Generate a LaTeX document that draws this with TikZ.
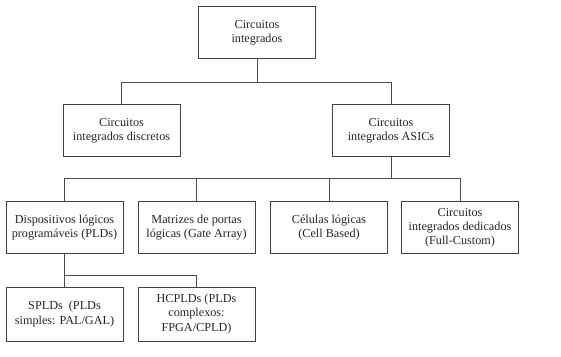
\documentclass[tikz,border=0pt]{standalone}
\usepackage{fontspec}
\setmainfont{Liberation Serif}
\usetikzlibrary{positioning,calc}

\tikzset{
  caixa/.style={draw=black!75, line width=1pt, minimum width=117pt, minimum height=52pt,
    align=center, inner sep=2pt, font=\fontsize{12.2}{14.2}\selectfont, text=black!85},
  liga/.style={draw=black!70, line width=1pt}
}

\begin{document}
\begin{tikzpicture}[x=1pt,y=1pt]
  \useasboundingbox (0,0) rectangle (561,356);

  % Nivel 1
  \node[caixa] (ci) at (257,323) {Circuitos\\integrados};

  % Nivel 2
  \node[caixa] (disc) at (121.5,225) {Circuitos\\integrados discretos};
  \node[caixa] (asic) at (391,225) {Circuitos\\integrados ASICs};

  % Nivel 3
  \node[caixa, minimum height=51pt] (pld) at (64.5,128.5) {Dispositivos lógicos\\programáveis (PLDs)};
  \node[caixa, minimum height=51pt] (mat) at (196.5,128.5) {Matrizes de portas\\lógicas (Gate Array)};
  \node[caixa, minimum height=51pt] (cel) at (329,128.5) {Células lógicas\\(Cell Based)};
  \node[caixa, minimum height=51pt] (ded) at (460,128.5) {Circuitos\\integrados dedicados\\(Full-Custom)};

  % Nivel 4
  \node[caixa, minimum height=54pt] (spld) at (64.5,42) {SPLDs \ (PLDs\\simples: PAL/GAL)};
  \node[caixa, minimum height=54pt] (hcpld) at (196.5,42) {HCPLDs (PLDs\\complexos:\\FPGA/CPLD)};

  % Ligacoes
  \draw[liga] (ci.south) -- ++(0,-23) -| (disc.north);
  \draw[liga] (ci.south) -- ++(0,-23) -| (asic.north);

  \draw[liga] (asic.south) -- ++(0,-21) -| (pld.north);
  \draw[liga] (asic.south) -- ++(0,-21) -| (mat.north);
  \draw[liga] (asic.south) -- ++(0,-21) -| (cel.north);
  \draw[liga] (asic.south) -- ++(0,-21) -| (ded.north);

  \draw[liga] (pld.south) -- (spld.north);
  \draw[liga] (pld.south) -- ++(0,-22) -| (hcpld.north);
\end{tikzpicture}
\end{document}
